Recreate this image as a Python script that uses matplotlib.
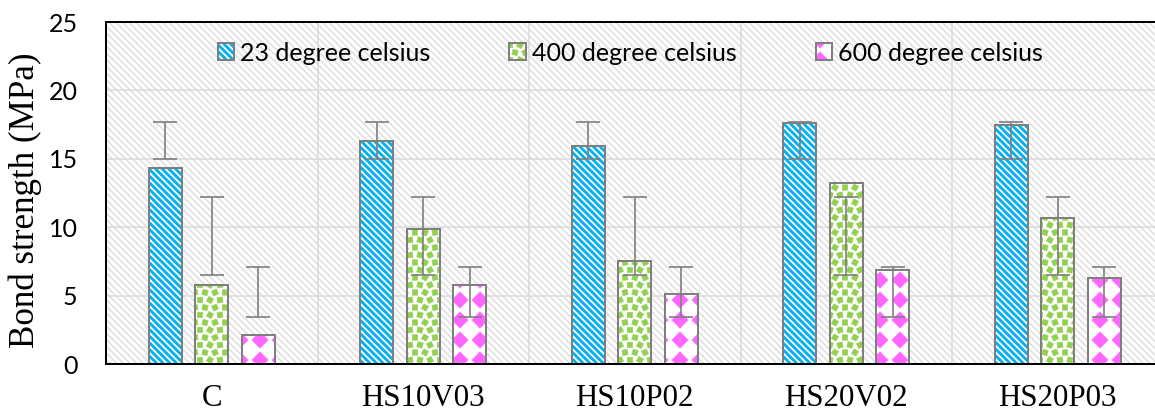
import matplotlib
matplotlib.use('Agg')
import numpy as np
import matplotlib.pyplot as plt
import matplotlib.hatch as mhatch
from matplotlib.path import Path
from matplotlib.colors import to_rgba

categories = ['C', 'HS10V03', 'HS10P02', 'HS20V02', 'HS20P03']
series = ['23 degree celsius', '400 degree celsius', '600 degree celsius']

bond_23 = [14.3, 16.3, 15.9, 17.6, 17.5]
bond_400 = [5.8, 9.9, 7.5, 13.2, 10.7]
bond_600 = [2.1, 5.8, 5.1, 6.9, 6.3]

# error bar ends as drawn in the source chart (same span for every mix)
err_lo_23 = [15.0, 15.0, 15.0, 15.0, 15.0]
err_hi_23 = [17.7, 17.7, 17.7, 17.7, 17.7]
err_lo_400 = [6.5, 6.5, 6.5, 6.5, 6.5]
err_hi_400 = [12.2, 12.2, 12.2, 12.2, 12.2]
err_lo_600 = [3.4, 3.4, 3.4, 3.4, 3.4]
err_hi_600 = [7.1, 7.1, 7.1, 7.1, 7.1]


# --- custom fill patterns (excel style confetti squares and diamonds) ---
def grid_pts(nx, ny, stagger):
    # centres on a grid, every other row shifted by half a column if stagger
    pts = []
    for j in range(ny + 1):
        if stagger and j % 2 == 1:
            xs = (np.arange(0, nx) + 0.5) / nx
        else:
            xs = np.arange(0, nx + 1) / nx
        pts += [(xx, j / ny) for xx in xs]
    return np.array(pts)


def rot(shape, deg):
    a = np.deg2rad(deg)
    m = np.array([[np.cos(a), -np.sin(a)], [np.sin(a), np.cos(a)]])
    return shape @ m.T


class _Tiles(mhatch.HatchPatternBase):
    char = 'o'
    nx = 12
    ny = 16
    stagger = True
    shapes = []

    def __init__(self, hatch, density):
        if hatch.count(self.char) == 0:
            self.centres = np.zeros((0, 2))
        else:
            self.centres = grid_pts(self.nx, self.ny, self.stagger)
        self.num_vertices = 5 * len(self.centres)

    def set_vertices_and_codes(self, vertices, codes):
        cc = [Path.MOVETO, Path.LINETO, Path.LINETO, Path.LINETO, Path.CLOSEPOLY]
        for i, c in enumerate(self.centres):
            shp = self.shapes[i % len(self.shapes)]
            vertices[5 * i:5 * i + 5] = shp + c
            codes[5 * i:5 * i + 5] = cc


_h = 2.7 / 120
_sq = np.array([(-_h, -_h), (_h, -_h), (_h, _h), (-_h, _h), (-_h, -_h)])
_r = 8.2 / 120
_dm = np.array([(0, _r), (_r, 0), (0, -_r), (-_r, 0), (0, _r)])


class Confetti(_Tiles):
    char = 'o'
    nx = 12
    ny = 16
    stagger = True
    shapes = [rot(_sq, 10), rot(_sq, -15), rot(_sq, 25), rot(_sq, 0), rot(_sq, -30)]


class Diamonds(_Tiles):
    char = '*'
    nx = 6
    ny = 6
    stagger = False
    shapes = [_dm]


mhatch._hatch_types = [Confetti if t is mhatch.SmallCircles else
                       Diamonds if t is mhatch.Stars else t
                       for t in mhatch._hatch_types]

plt.rcParams['hatch.linewidth'] = 1.0

fig = plt.figure(figsize=(1155 / 120, 412 / 120), dpi=120)
ax = fig.add_axes([106 / 1155, 48 / 412, 1057.5 / 1155, 342 / 412])

# light diagonal background
ax.patch.set_facecolor('white')
ax.patch.set_hatch('\\' * 6)
ax.patch.set_edgecolor('#dedede')
ax.patch.set_linewidth(0)
if hasattr(ax.patch, 'set_hatch_linewidth'):
    ax.patch.set_hatch_linewidth(0.9)

x = np.arange(len(categories))
width = 0.156
offsets = [-0.22, 0.0, 0.22]
specs = [
    (bond_23, err_lo_23, err_hi_23, '#00B0F0', '\\' * 6, 1.7),
    (bond_400, err_lo_400, err_hi_400, '#92D050', 'o', 0.3),
    (bond_600, err_lo_600, err_hi_600, '#FF66FF', '*', 0.3),
]

for (vals, lo, hi, col, hatch, hlw), off, label in zip(specs, offsets, series):
    bars = ax.bar(x + off, vals, width, facecolor='white', edgecolor='#7f7f7f',
                  linewidth=1.2, hatch=hatch, label=label, zorder=2)
    for b in bars:
        b._hatch_color = to_rgba(col)
        if hasattr(b, 'set_hatch_linewidth'):
            b.set_hatch_linewidth(hlw)
    lo = np.array(lo)
    hi = np.array(hi)
    ax.errorbar(x + off, (lo + hi) / 2, yerr=(hi - lo) / 2, fmt='none',
                ecolor='#7f7f7f', elinewidth=1.0, capsize=7, capthick=1.0, zorder=3)

ax.set_xlim(-0.5, len(categories) - 0.5)
ax.set_ylim(0, 25)
ax.set_yticks(np.arange(0, 26, 5))
ax.set_xticks(x)
ax.set_xticklabels(categories, family='Liberation Serif', fontsize=18.5)
ax.set_xticks(np.arange(0.5, len(categories) - 0.5, 1), minor=True)
for t in ax.get_yticklabels():
    t.set_family('Lato')
    t.set_fontsize(15)
ax.tick_params(which='both', length=0)
ax.tick_params(axis='y', pad=17)
ax.tick_params(axis='x', pad=12)

ax.yaxis.grid(True, color='#d9d9d9', linewidth=0.9)
ax.xaxis.grid(True, which='minor', color='#d9d9d9', linewidth=0.9)
ax.set_axisbelow(True)

for sp in ax.spines.values():
    sp.set_color('black')
    sp.set_linewidth(1.2)

ax.set_ylabel('Bond strength (MPa)', family='Liberation Serif', fontsize=21)
ax.yaxis.set_label_coords(-0.0605, 0.48)

leg = ax.legend(loc='center', bbox_to_anchor=(0.496, 0.909), ncol=3, frameon=False,
                prop={'family': 'Lato', 'size': 15}, handlelength=0.66,
                handleheight=0.66, handletextpad=0.25, columnspacing=3.15)
for h, (vals, lo, hi, col, hatch, hlw) in zip(leg.legend_handles, specs):
    h._hatch_color = to_rgba(col)
    if hasattr(h, 'set_hatch_linewidth'):
        h.set_hatch_linewidth(hlw)

fig.savefig('out.png', dpi=120)
